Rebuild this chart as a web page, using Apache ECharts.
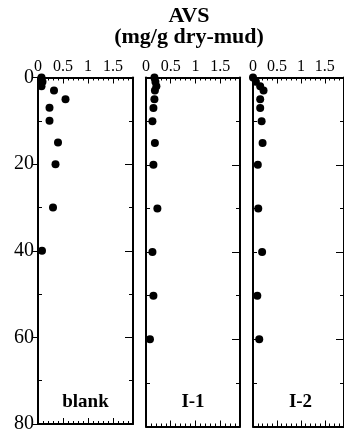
<!DOCTYPE html>
<html><head><meta charset="utf-8">
<script src="https://cdn.jsdelivr.net/npm/echarts@6/dist/echarts.min.js"></script>
<style>html,body{margin:0;padding:0;background:#fff}#c{width:344px;height:434px}</style>
</head><body><div id="c"></div>
<script>
const panelNames = ['blank', 'I-1', 'I-2'];
const depths = [0, 1, 2, 3, 5, 7, 10, 15, 20, 30, 40, 50, 60];
const avsBlank = [0.07, 0.09, 0.07, 0.32, 0.55, 0.23, 0.23, 0.40, 0.35, 0.30, 0.08, null, null];
const avsI1 = [0.17, 0.19, 0.21, 0.18, 0.17, 0.15, 0.13, 0.18, 0.15, 0.23, 0.13, 0.15, 0.08];
const avsI2 = [0.00, 0.06, 0.15, 0.22, 0.15, 0.15, 0.18, 0.20, 0.10, 0.11, 0.19, 0.09, 0.13];
const xMajorTicks = [0, 0.5, 1, 1.5];
const xMinorTicks = [0.1, 0.2, 0.3, 0.4, 0.6, 0.7, 0.8, 0.9, 1.1, 1.2, 1.3, 1.4, 1.6, 1.7, 1.8];
const yTickLabels = [0, 20, 40, 60, 80];
const yMinorTicks = [10, 30, 50, 70];
const titleLines = ['AVS', '(mg/g dry-mud)'];

const allSeries = [avsBlank, avsI1, avsI2];
const FONT = "'Liberation Serif', 'Times New Roman', serif";
const gridLeft = [38, 146, 253];
const gridWidth = [95, 94, 95];
const gTop = 77.5, gHeight = 349;

const grids = [], xAxes = [], yAxes = [], series = [], graphic = [];
const line = { show: true, onZero: false, lineStyle: { color: '#000', width: 2 } };
const noLine = { show: false, onZero: false };
const tickStyle = { color: '#000', width: 1 };

panelNames.forEach((name, k) => {
  grids.push({ left: gridLeft[k], top: gTop, width: gridWidth[k], height: gHeight, containLabel: false });
  const xBase = { gridIndex: k, type: 'value', min: 0, max: 1.9, splitLine: { show: false } };
  xAxes.push(Object.assign({}, xBase, {
    position: 'top', axisLine: line,
    axisTick: { show: true, inside: true, length: 6, customValues: xMajorTicks, lineStyle: tickStyle },
    axisLabel: { show: true, customValues: xMajorTicks, margin: 3, color: '#000', fontFamily: FONT, fontSize: 16,
      formatter: v => String(v) }
  }));
  xAxes.push(Object.assign({}, xBase, {
    position: 'top', axisLine: noLine,
    axisTick: { show: true, inside: true, length: 3, customValues: xMinorTicks, lineStyle: tickStyle },
    axisLabel: { show: false }
  }));
  xAxes.push(Object.assign({}, xBase, {
    position: 'bottom', axisLine: line,
    axisTick: { show: true, inside: true, length: 6, customValues: xMajorTicks, lineStyle: tickStyle },
    axisLabel: { show: false }
  }));
  xAxes.push(Object.assign({}, xBase, {
    position: 'bottom', axisLine: noLine,
    axisTick: { show: true, inside: true, length: 3, customValues: xMinorTicks, lineStyle: tickStyle },
    axisLabel: { show: false }
  }));

  const yBase = { gridIndex: k, type: 'value', min: 0, max: 80, inverse: true, splitLine: { show: false } };
  yAxes.push(Object.assign({}, yBase, {
    position: 'left', axisLine: line,
    axisTick: k === 0
      ? { show: true, inside: false, length: 5, customValues: yTickLabels, lineStyle: tickStyle }
      : { show: true, inside: true, length: 4, customValues: yTickLabels, lineStyle: tickStyle },
    axisLabel: k === 0
      ? { show: true, customValues: yTickLabels, margin: 4, color: '#000', fontFamily: FONT, fontSize: 20 }
      : { show: false }
  }));
  yAxes.push(Object.assign({}, yBase, {
    position: 'left', axisLine: noLine,
    axisTick: { show: true, inside: true, length: 4, customValues: yMinorTicks, lineStyle: tickStyle },
    axisLabel: { show: false }
  }));
  yAxes.push(Object.assign({}, yBase, {
    position: 'right', axisLine: line,
    axisTick: { show: true, inside: true, length: 8, customValues: yTickLabels, lineStyle: tickStyle },
    axisLabel: { show: false }
  }));
  yAxes.push(Object.assign({}, yBase, {
    position: 'right', axisLine: noLine,
    axisTick: { show: true, inside: true, length: 4, customValues: yMinorTicks, lineStyle: tickStyle },
    axisLabel: { show: false }
  }));

  const vals = allSeries[k];
  const data = [];
  depths.forEach((d, i) => { if (vals[i] != null) data.push([vals[i], d]); });
  series.push({
    type: 'scatter', name: name, xAxisIndex: k * 4, yAxisIndex: k * 4,
    data: data, symbol: 'circle', symbolSize: 8, clip: false,
    itemStyle: { color: '#000', opacity: 1 }, silent: true
  });

  graphic.push({
    type: 'text', x: gridLeft[k] + gridWidth[k] / 2, y: 402,
    style: { text: name, fill: '#000', font: 'bold 19px ' + FONT, align: 'center', verticalAlign: 'middle' }
  });
});

titleLines.forEach((t, i) => {
  graphic.push({
    type: 'text', x: 189, y: 16 + i * 21,
    style: { text: t, fill: '#000', font: 'bold 22px ' + FONT, align: 'center', verticalAlign: 'middle' }
  });
});

const chart = echarts.init(document.getElementById('c'), null, { renderer: 'canvas' });
chart.setOption({
  animation: false,
  backgroundColor: '#fff',
  grid: grids,
  xAxis: xAxes,
  yAxis: yAxes,
  series: series,
  graphic: graphic
});
</script>
</body></html>
